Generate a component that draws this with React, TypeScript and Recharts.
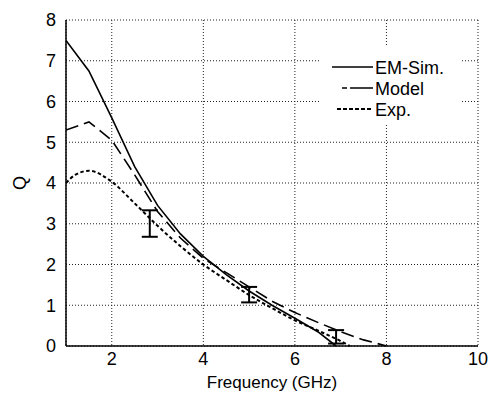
import React from 'react';
import {
    ComposedChart, Line, Scatter, ErrorBar, XAxis, YAxis, CartesianGrid, Legend, Label
} from 'recharts';

// frequency (GHz) / Q
const emSimFreq = [1, 1.5, 2, 2.5, 3, 3.5, 4, 4.5, 5, 5.5, 6, 6.5, 6.9];
const emSimQ = [7.5, 6.75, 5.6, 4.4, 3.45, 2.75, 2.2, 1.75, 1.35, 1.0, 0.68, 0.35, 0];

const modelFreq = [1, 1.5, 2, 2.5, 3, 3.5, 4, 4.5, 5, 5.5, 6, 6.5, 7, 7.5, 8];
const modelQ = [5.3, 5.5, 5.05, 4.2, 3.3, 2.65, 2.15, 1.8, 1.45, 1.1, 0.82, 0.58, 0.35, 0.15, 0];

const expFreq = [1, 1.2, 1.5, 2, 2.5, 3, 3.5, 4, 4.5, 5, 5.5, 6, 6.5, 7, 7.2];
const expQ = [4.0, 4.2, 4.3, 4.03, 3.5, 2.95, 2.45, 2.0, 1.62, 1.25, 0.93, 0.63, 0.38, 0.12, 0];

// measured spread shown as error bars
const errFreq = [2.83, 5.0, 6.9];
const errLow = [2.68, 1.07, 0.06];
const errHigh = [3.33, 1.45, 0.39];

const xTicks = [2, 4, 6, 8, 10];
const yTicks = [0, 1, 2, 3, 4, 5, 6, 7, 8];

const zip = (fs: number[], qs: number[]) => fs.map((f, i) => ({ f, q: qs[i] }));

const emSimData = zip(emSimFreq, emSimQ);
const modelData = zip(modelFreq, modelQ);
const expData = zip(expFreq, expQ);
const errData = errFreq.map((f, i) => {
    const mid = (errLow[i] + errHigh[i]) / 2;
    return { f, q: mid, err: [mid - errLow[i], errHigh[i] - mid] };
});

const font = 'Arial, "Liberation Sans", sans-serif';

const legendItems = [
    { name: 'EM-Sim.', dash: undefined, x1: 12, width: 1.6 },
    { name: 'Model', dash: '5 3 22 0', x1: 22, width: 1.6 },
    { name: 'Exp.', dash: '4 2', x1: 17, width: 2 },
];

const LegendBox = () => (
    <svg width={142} height={78}>
        {legendItems.map((it, i) => {
            const y = 22 + i * 21;
            return (
                <g key={it.name}>
                    <line x1={it.x1} x2={53} y1={y} y2={y} stroke="#000" strokeWidth={it.width}
                        strokeDasharray={it.dash} />
                    <text x={55} y={y + 6.5} fontSize={18} fontFamily={font} fill="#000">{it.name}</text>
                </g>
            );
        })}
    </svg>
);

const App: React.FC = () => {
    return (
        <div style={{ position: 'absolute', left: 0, top: 0, width: 491, height: 393, background: '#fff' }}>
            <ComposedChart width={491} height={393} margin={{ top: 20, right: 13, left: 0, bottom: 0 }}>
                <CartesianGrid stroke="#222" strokeDasharray="1 2" />
                <XAxis
                    dataKey="f"
                    type="number"
                    domain={[1, 10]}
                    ticks={xTicks}
                    allowDataOverflow
                    height={47}
                    tickLine={false}
                    tickSize={0}
                    tickMargin={6}
                    axisLine={{ stroke: '#000', strokeWidth: 1.5 }}
                    tick={{ fill: '#000', fontSize: 18, fontFamily: font }}
                >
                    <Label value="Frequency (GHz)" position="insideBottom" offset={5}
                        style={{ fill: '#000', fontSize: 17, fontFamily: font }} />
                </XAxis>
                <XAxis xAxisId="top" orientation="top" type="number" domain={[1, 10]} height={0}
                    tick={false} tickLine={false} axisLine={{ stroke: '#000', strokeWidth: 1.5 }} />
                <YAxis
                    type="number"
                    domain={[0, 8]}
                    ticks={yTicks}
                    width={66}
                    tickLine={false}
                    tickSize={0}
                    tickMargin={10}
                    axisLine={{ stroke: '#000', strokeWidth: 1.5 }}
                    tick={{ fill: '#000', fontSize: 18, fontFamily: font }}
                >
                    <Label value="Q" angle={-90} position="insideLeft" offset={20} textAnchor="middle"
                        style={{ fill: '#000', fontSize: 18, fontFamily: font }} />
                </YAxis>
                <YAxis yAxisId="right" orientation="right" type="number" domain={[0, 8]} width={0}
                    tick={false} tickLine={false} axisLine={{ stroke: '#000', strokeWidth: 1.5 }} />
                <Legend
                    layout="vertical"
                    align="center"
                    verticalAlign="middle"
                    content={<LegendBox />}
                    wrapperStyle={{ left: 320, top: 45, width: 142, height: 78, background: '#fff' }}
                />
                <Line data={emSimData} dataKey="q" type="linear" stroke="#000" strokeWidth={1.6}
                    dot={false} isAnimationActive={false} name="EM-Sim." />
                <Line data={modelData} dataKey="q" type="linear" stroke="#000" strokeWidth={1.6}
                    strokeDasharray="13 6" dot={false} isAnimationActive={false} name="Model" />
                <Line data={expData} dataKey="q" type="monotone" stroke="#000" strokeWidth={2}
                    strokeDasharray="3.5 2.5" dot={false} isAnimationActive={false} name="Exp." />
                <Scatter data={errData} dataKey="q" shape={() => <g />} isAnimationActive={false} legendType="none">
                    <ErrorBar dataKey="err" direction="y" width={8} stroke="#000" strokeWidth={2}
                        isAnimationActive={false} />
                </Scatter>
            </ComposedChart>
        </div>
    );
};

export default App;
